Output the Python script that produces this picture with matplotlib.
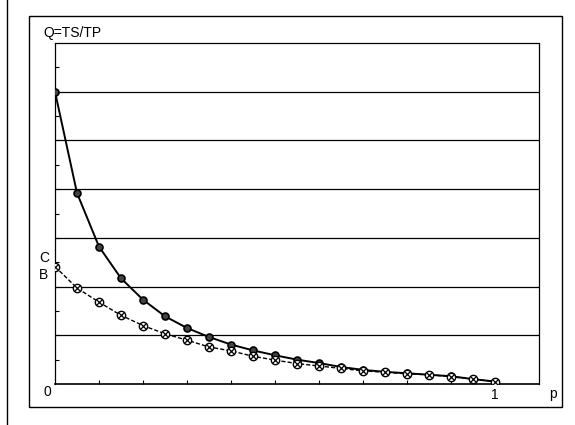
import matplotlib
matplotlib.use("Agg")
import matplotlib.pyplot as plt
from matplotlib.patches import Rectangle
from matplotlib.lines import Line2D
import numpy as np

plt.rcParams['font.family'] = ['Liberation Sans', 'DejaVu Sans']

p = [0.0, 0.05, 0.1, 0.15, 0.2, 0.25, 0.3, 0.35, 0.4, 0.45, 0.5,
     0.55, 0.6, 0.65, 0.7, 0.75, 0.8, 0.85, 0.9, 0.95, 1.0]
q_c = [6.0, 3.92, 2.82, 2.17, 1.73, 1.39, 1.15, 0.965, 0.81, 0.69, 0.59,
       0.50, 0.43, 0.35, 0.29, 0.25, 0.22, 0.19, 0.16, 0.10, 0.05]
q_b = [2.41, 1.97, 1.68, 1.41, 1.20, 1.03, 0.90, 0.76, 0.68, 0.57, 0.49,
       0.42, 0.37, 0.32, 0.27, 0.24, 0.21, 0.19, 0.15, 0.10, 0.05]

W, H = 575, 425
fig = plt.figure(figsize=(W / 100, H / 100), dpi=100)

# outer frame and left margin line (scan look)
fig.add_artist(Rectangle((29 / W, 1 - 407 / H), (562 - 29) / W, (407 - 16) / H,
                         transform=fig.transFigure, fill=False, lw=1.0, ec='black'))
fig.add_artist(Line2D([7 / W, 7 / W], [0, 1], transform=fig.transFigure, lw=1.0, color='black'))

ax = fig.add_axes([55 / W, 1 - 384 / H, (539 - 55) / W, (384 - 43) / H])
ax.set_xlim(0, 1.1)
ax.set_ylim(0, 7)

for y in range(1, 7):
    ax.axhline(y, color='black', lw=0.9, zorder=1)

ax.plot(p, q_c, color='black', lw=1.4, marker='o', ms=5,
        mfc='#444444', mec='black', mew=1.2, zorder=3)
ax.plot(p, q_b, color='black', lw=1.0, ls=(0, (3, 1.5)), marker='o', ms=6,
        mfc='white', mec='black', mew=1.0, zorder=4)
ax.plot(p, q_b, ls='none', marker='x', ms=5, mec='black', mew=0.9, zorder=5)

for side in ['top', 'left', 'right']:
    ax.spines[side].set_linestyle((0, (2, 1)))
    ax.spines[side].set_linewidth(0.9)
ax.spines['bottom'].set_linewidth(1.2)

ax.set_xticks(np.arange(0.1, 1.1, 0.1))
ax.set_yticks(np.arange(0.5, 7, 0.5))
ax.tick_params(direction='in', length=3, width=0.8, labelbottom=False, labelleft=False)

fig.text(43 / W, 1 - 33 / H, "Q=TS/TP", fontsize=10, va='center', ha='left')
fig.text(47 / W, 1 - 392 / H, "0", fontsize=10, va='center', ha='center')
fig.text(495 / W, 1 - 395 / H, "1", fontsize=10, va='center', ha='center')
fig.text(553 / W, 1 - 394 / H, "p", fontsize=10, va='center', ha='center')
fig.text(44 / W, 1 - 258 / H, "C", fontsize=10, va='center', ha='center')
fig.text(44 / W, 1 - 275 / H, "B", fontsize=10, va='center', ha='center')

fig.savefig("out.png", dpi=100)
